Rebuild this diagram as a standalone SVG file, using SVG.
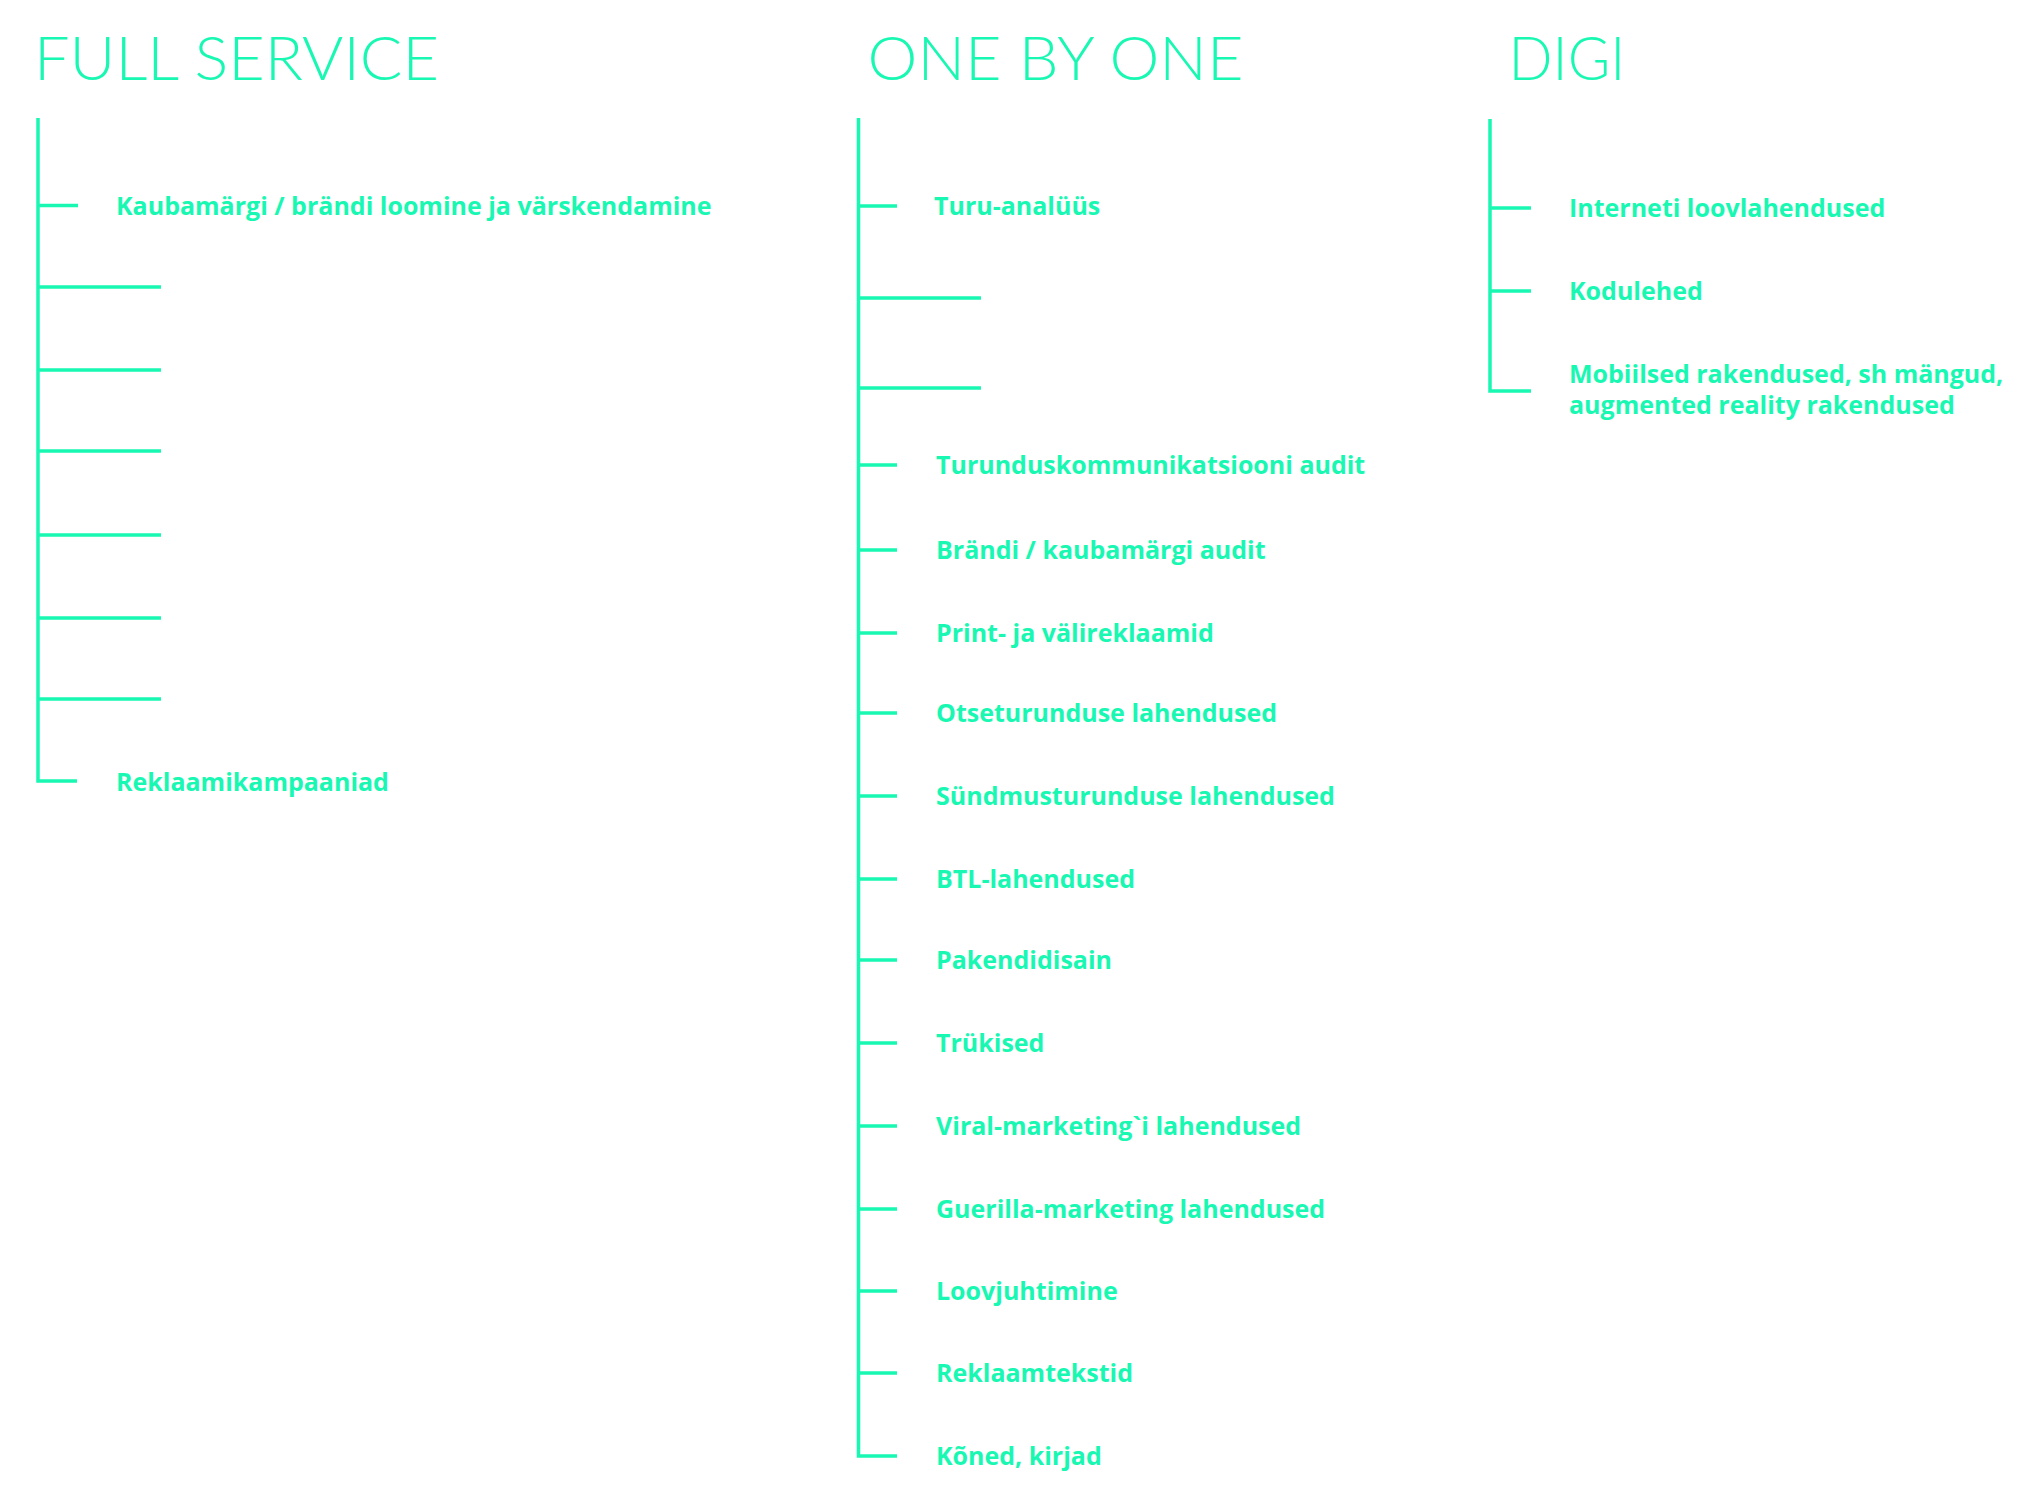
<svg xmlns="http://www.w3.org/2000/svg" width="2044" height="1503" viewBox="0 0 2044 1503">
<style>
.t{font-family:Lato,"Open Sans",sans-serif;font-weight:300;font-size:62px;fill:#19F8B2}
.l{font-family:"Open Sans","Noto Sans",sans-serif;font-weight:700;font-size:25px;fill:#19F8B2}
.c{fill:none;stroke:#19F8B2;stroke-width:3.5;stroke-linecap:butt;stroke-linejoin:miter}
</style>
<rect width="2044" height="1503" fill="#ffffff"/>
<g id="connectors">
<path class="c" d="M38 118 V781 H77"/>
<path class="c" d="M38 205.5 H78 M38 287 H161 M38 370 H161 M38 451 H161 M38 535 H161 M38 618 H161 M38 699 H161"/>
<path class="c" d="M858.5 118 V1456 H897"/>
<path class="c" d="M858.5 206 H897 M858.5 298 H981 M858.5 388 H981 M858.5 465 H897 M858.5 550 H897 M858.5 633 H897 M858.5 713 H897 M858.5 796 H897 M858.5 879 H897 M858.5 960 H897 M858.5 1043 H897 M858.5 1126 H897 M858.5 1209 H897 M858.5 1291 H897 M858.5 1373 H897"/>
<path class="c" d="M1490 119 V391 H1531"/>
<path class="c" d="M1490 208 H1531 M1490 291 H1531"/>
</g>
<g id="full-service">
<text class="t" x="34" y="80" textLength="405" lengthAdjust="spacingAndGlyphs">FULL SERVICE</text>
</g>
<g id="fs-1"><text class="l" x="116" y="215">Kaubamärgi / brändi loomine ja värskendamine</text></g>
<g id="fs-2"><text class="l" x="116" y="791">Reklaamikampaaniad</text></g>
<g id="one-by-one">
<text class="t" x="867.5" y="80" textLength="376" lengthAdjust="spacingAndGlyphs">ONE BY ONE</text>
</g>
<g id="obo-1"><text class="l" x="934" y="215">Turu-analüüs</text></g>
<g id="obo-2"><text class="l" x="936" y="474">Turunduskommunikatsiooni audit</text></g>
<g id="obo-3"><text class="l" x="936" y="559">Brändi / kaubamärgi audit</text></g>
<g id="obo-4"><text class="l" x="936" y="642">Print- ja välireklaamid</text></g>
<g id="obo-5"><text class="l" x="936" y="722">Otseturunduse lahendused</text></g>
<g id="obo-6"><text class="l" x="936" y="805">Sündmusturunduse lahendused</text></g>
<g id="obo-7"><text class="l" x="936" y="888">BTL-lahendused</text></g>
<g id="obo-8"><text class="l" x="936" y="969">Pakendidisain</text></g>
<g id="obo-9"><text class="l" x="936" y="1052">Trükised</text></g>
<g id="obo-10"><text class="l" x="936" y="1135">Viral-marketing`i lahendused</text></g>
<g id="obo-11"><text class="l" x="936" y="1218">Guerilla-marketing lahendused</text></g>
<g id="obo-12"><text class="l" x="936" y="1300">Loovjuhtimine</text></g>
<g id="obo-13"><text class="l" x="936" y="1382">Reklaamtekstid</text></g>
<g id="obo-14"><text class="l" x="936" y="1465">Kõned, kirjad</text></g>
<g id="digi">
<text class="t" x="1508.5" y="80" textLength="117" lengthAdjust="spacingAndGlyphs">DIGI</text>
</g>
<g id="digi-1"><text class="l" x="1569" y="217">Interneti loovlahendused</text></g>
<g id="digi-2"><text class="l" x="1569" y="300">Kodulehed</text></g>
<g id="digi-3"><text class="l" x="1569" y="383">Mobiilsed rakendused, sh mängud,<tspan x="1569" y="414">augmented reality rakendused</tspan></text></g>
</svg>
